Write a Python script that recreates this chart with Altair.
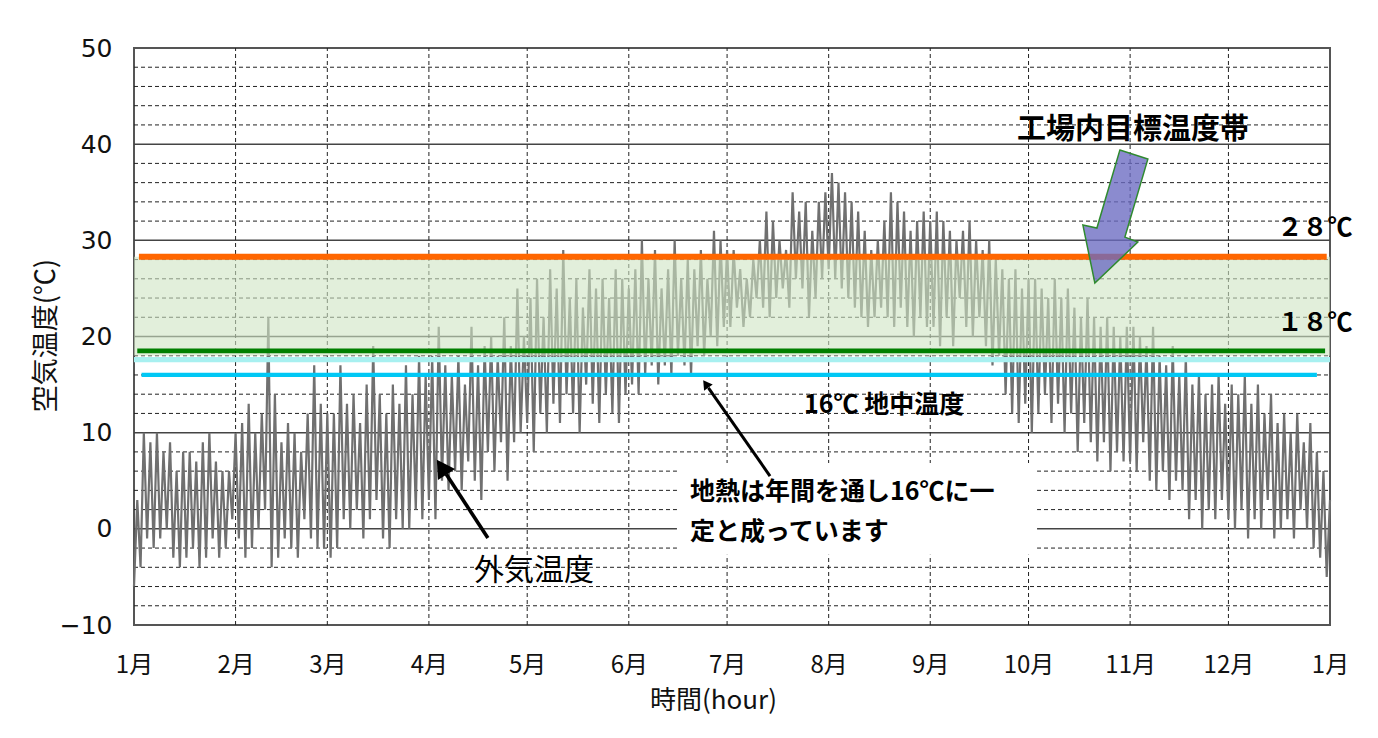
import altair as alt
import pandas as pd

# ---------------- data ----------------
month_starts = [0, 31, 59, 90, 120, 151, 181, 212, 243, 273, 304, 334, 365]
month_labels = ["1月", "2月", "3月", "4月", "5月", "6月", "7月", "8月", "9月", "10月", "11月", "12月", "1月"]
y_ticks = [-10, 0, 10, 20, 30, 40, 50]
y_minor = [-8, -6, -4, -2, 2, 4, 6, 8, 12, 14, 16, 18, 22, 24, 26, 28, 32, 34, 36, 38, 42, 44, 46, 48]

# outside air temperature, daily max / min, one pair every 2 days (day 0,2,...,364)
hi_temp = [
    3, 10, 9, 10, 8, 9, 6, 8, 8, 7, 9, 10, 7, 6, 6, 10,            # Jan
    11, 13, 10, 12, 22, 14, 9, 11, 10, 8, 12, 17, 13, 12,          # Feb
    12, 17, 13, 14, 11, 15, 19, 14, 12, 15, 13, 17, 14, 18, 16,    # Mar
    18, 21, 17, 16, 18, 15, 21, 17, 19, 20, 18, 22, 19, 25, 20,    # Apr
    24, 26, 22, 27, 25, 29, 24, 26, 23, 27, 25, 26, 24, 27, 26, 25,  # May
    27, 30, 26, 29, 25, 27, 30, 26, 28, 27, 29, 26, 31, 30, 29,    # Jun
    29, 27, 26, 28, 30, 33, 32, 30, 29, 35, 33, 34, 31, 34, 35,    # Jul
    37, 36, 35, 34, 33, 31, 29, 30, 32, 35, 34, 33, 31, 32, 33, 32,  # Aug
    33, 32, 31, 30, 31, 32, 30, 29, 30, 28, 27, 26, 27, 25, 26,    # Sep
    26, 25, 24, 26, 24, 25, 23, 22, 24, 22, 21, 22, 21, 20, 21,    # Oct
    21, 20, 19, 21, 18, 17, 19, 16, 18, 15, 16, 14, 15, 16, 13,    # Nov
    15, 14, 16, 13, 15, 12, 14, 11, 12, 10, 12, 9, 11, 8, 6, 3,    # Dec
]
lo_temp = [
    -6, -4, -1, -2, -1, 0, -3, -4, -3, -2, -4, -3, -1, -3, -2, 1,
    -1, -3, -2, 0, 2, -4, -3, -1, -2, -3, 1, -1, -2, -2,
    -3, -2, 1, 0, 2, -1, 1, 3, -1, -2, 1, 0, 0, 2, 1,
    3, 1, 5, 4, 6, 4, 7, 5, 3, 8, 6, 9, 5, 9, 10,
    11, 8, 12, 10, 13, 11, 14, 12, 10, 15, 13, 11, 14, 12, 11, 14,
    15, 14, 16, 17, 15, 17, 16, 18, 17, 16, 19, 18, 20, 19, 21,
    21, 23, 21, 22, 24, 23, 22, 24, 25, 23, 26, 25, 22, 24, 26,
    27, 26, 25, 24, 23, 22, 21, 22, 23, 22, 21, 23, 21, 20, 22, 21,
    21, 19, 22, 19, 24, 21, 20, 22, 19, 17, 18, 14, 12, 11, 13,
    10, 12, 14, 11, 13, 10, 12, 8, 11, 9, 7, 9, 6, 8, 7,
    7, 6, 9, 5, 4, 6, 3, 5, 4, 1, 3, 0, 2, 1, 3,
    1, 0, 2, -1, 1, 0, 3, -1, 0, 1, -1, 2, 0, -2, -3, -5,
]

band_low, band_high = 18, 28.3
green_level = 18.5
ground_level = 16

# ---------------- tables ----------------
rows = []
for i, (h, l) in enumerate(zip(hi_temp, lo_temp)):
    t = 2 * i
    rows.append({"day": t, "temp": l, "o": 2 * i})
    rows.append({"day": t + 1, "temp": h, "o": 2 * i + 1})
series = pd.DataFrame(rows)

xscale = alt.Scale(domain=[0, 365], nice=False, zero=False)
yscale = alt.Scale(domain=[-10, 50], nice=False, zero=False)

label_expr = ""
for v, lab in zip(month_starts, month_labels):
    label_expr += f"datum.value == {v} ? '{lab}' : "
label_expr += "''"

xaxis = alt.Axis(values=month_starts, labelExpr=label_expr, grid=False, ticks=False, domain=False,
                 labelFont="Noto Sans CJK JP", labelFontSize=24, labelColor="#111", labelPadding=28,
                 title="時間(hour)", titleFont="Noto Sans CJK JP", titleFontSize=26, titleFontWeight="normal",
                 titleColor="#111", titleX=579, titleY=75, titleAlign="center", titleBaseline="middle",
                 labelFlush=False)
yaxis = alt.Axis(values=y_ticks, grid=False, ticks=False, domain=False,
                 labelFont="DejaVu Sans", labelFontSize=25, labelColor="#111", labelPadding=22,
                 title="空気温度(℃)", titleFont="Noto Sans CJK JP", titleFontSize=27, titleFontWeight="normal",
                 titleColor="#111", titleX=-88, titleY=287, titleAlign="center", titleBaseline="middle",
                 titleAngle=270)


def X(f):
    return alt.X(f, type="quantitative", scale=xscale, axis=xaxis)


def Y(f):
    return alt.Y(f, type="quantitative", scale=yscale, axis=yaxis)


# gridlines
hminor = pd.DataFrame({"x0": 0, "x1": 365, "y": y_minor})
hmajor = pd.DataFrame({"x0": 0, "x1": 365, "y": y_ticks[1:-1]})
vgrid = pd.DataFrame({"x": month_starts[1:-1], "y0": -10, "y1": 50})

g_minor = alt.Chart(hminor).mark_rule(color="#222", strokeWidth=1, strokeDash=[4, 3]).encode(
    x=X("x0"), x2="x1", y=Y("y"))
g_major = alt.Chart(hmajor).mark_rule(color="#444", strokeWidth=1.5).encode(
    x=X("x0"), x2="x1", y=Y("y"))
g_vert = alt.Chart(vgrid).mark_rule(color="#222", strokeWidth=1, strokeDash=[4, 3]).encode(
    x=X("x"), y=Y("y0"), y2="y1")

line = alt.Chart(series).mark_line(color="#707070", strokeWidth=2.2).encode(
    x=X("day"), y=Y("temp"), order="o:Q")

band = alt.Chart(pd.DataFrame({"x0": [0], "x1": [365], "y0": [band_low], "y1": [band_high]})).mark_rect(
    color="#cfe5c3", opacity=0.6).encode(x=X("x0"), x2="x1", y=Y("y0"), y2="y1")

lines_df = pd.DataFrame([
    {"x0": 1.5, "x1": 364, "y": band_high, "c": "orange"},
    {"x0": 0, "x1": 365, "y": band_low - 0.4, "c": "pale"},
    {"x0": 1, "x1": 363.5, "y": green_level, "c": "green"},
    {"x0": 2.3, "x1": 361, "y": ground_level, "c": "cyan"},
])
ref_lines = alt.Chart(lines_df).mark_rule().encode(
    x=X("x0"), x2="x1", y=Y("y"),
    color=alt.Color("c:N", scale=alt.Scale(domain=["orange", "pale", "green", "cyan"],
                                           range=["#ff6600", "#a8f0f0", "#007f00", "#00c8f5"]), legend=None),
    strokeWidth=alt.StrokeWidth("c:N", scale=alt.Scale(domain=["orange", "pale", "green", "cyan"],
                                                        range=[6, 3, 6, 5]), legend=None),
)

white_box = alt.Chart(pd.DataFrame({"x0": [165.7], "x1": [275.6], "y0": [-2.7], "y1": [6.85]})).mark_rect(
    color="white").encode(x=X("x0"), x2="x1", y=Y("y0"), y2="y1")


def text_layer(df, **kw):
    return alt.Chart(df).mark_text(font="Noto Sans CJK JP", color="#000", **kw).encode(
        x=X("x"), y=Y("y"), text="t:N")


t_target = text_layer(pd.DataFrame({"x": [304.9], "y": [41.5], "t": ["工場内目標温度帯"]}),
                      fontSize=29, fontWeight="bold", align="center", baseline="middle")
t_levels = text_layer(pd.DataFrame({"x": [360.4, 360.4], "y": [31.3, 21.45], "t": ["２８℃", "１８℃"]}),
                      fontSize=25, fontWeight="bold", align="center", baseline="middle")
t_ground = text_layer(pd.DataFrame({"x": [204.5], "y": [12.9], "t": ["16℃ 地中温度"]}),
                      fontSize=25, fontWeight="bold", align="left", baseline="middle")
t_note = text_layer(pd.DataFrame({"x": [169.7, 169.7], "y": [3.85, -0.35],
                                  "t": ["地熱は年間を通し16℃に一", "定と成っています"]}),
                    fontSize=25, fontWeight="bold", align="left", baseline="middle")
t_outside = text_layer(pd.DataFrame({"x": [122.1], "y": [-4.4], "t": ["外気温度"]}),
                       fontSize=30, fontWeight="normal", align="center", baseline="middle")

# arrows
arrow_shafts = alt.Chart(pd.DataFrame([
    {"x0": 108.0, "y0": -0.96, "x1": 95.3, "y1": 5.68, "w": "thick"},
    {"x0": 194.1, "y0": 5.49, "x1": 175.3, "y1": 14.66, "w": "thin"},
])).mark_rule(color="#000").encode(
    x=X("x0"), y=Y("y0"), x2="x1", y2="y1",
    strokeWidth=alt.StrokeWidth("w:N", scale=alt.Scale(domain=["thick", "thin"], range=[4.5, 1.2]), legend=None))

head_thick = alt.Chart(pd.DataFrame({"x": [93.9], "y": [6.42]})).mark_point(
    shape="triangle-up", size=420, angle=327, filled=True, color="#000", opacity=1).encode(x=X("x"), y=Y("y"))
head_thin = alt.Chart(pd.DataFrame({"x": [174.5], "y": [15.07]})).mark_point(
    shape="triangle-up", size=110, angle=325, filled=True, color="#000", opacity=1).encode(x=X("x"), y=Y("y"))

big_arrow_path = ("M0.064,-0.95 L0.464,-0.821 L0.136,0.293 L0.321,0.364 "
                  "L-0.293,0.95 L-0.464,0.121 L-0.264,0.164 Z")
big_arrow = alt.Chart(pd.DataFrame({"x": [299.5], "y": [32.47]})).mark_point(
    shape=big_arrow_path, size=19600, filled=True, fill="#6a6ac2", fillOpacity=0.78,
    stroke="#2f8a2f", strokeWidth=1.5, strokeOpacity=1, opacity=1).encode(x=X("x"), y=Y("y"))

chart = alt.layer(
    g_minor, g_major, g_vert, line, band, ref_lines, white_box,
    t_target, t_levels, t_ground, t_note, t_outside,
    arrow_shafts, head_thick, head_thin, big_arrow,
).properties(
    width=1196, height=577,
    autosize=alt.AutoSizeParams(type="none"),
    padding={"left": 126, "top": 40, "right": 40, "bottom": 105},
    background="white",
).configure_view(
    stroke="#555", strokeWidth=2
).configure_axisX(
    labelFontSize=24, labelFont="Noto Sans CJK JP"
).configure_axisY(
    labelFontSize=25, labelFont="DejaVu Sans"
)

chart.save("out.html", embed_options={"renderer": "svg", "actions": False})
